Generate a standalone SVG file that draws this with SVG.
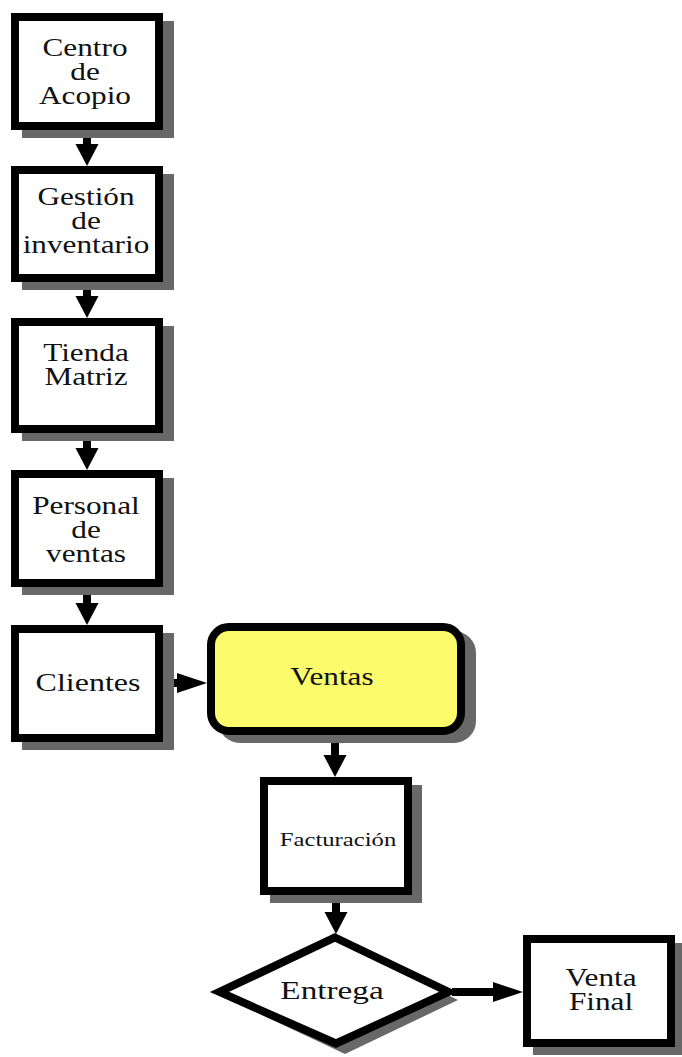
<svg xmlns="http://www.w3.org/2000/svg" width="682" height="1057" viewBox="0 0 682 1057">
  <style>
    .shadow { fill: #686868; stroke: none; }
    .box { fill: #ffffff; stroke: #000000; stroke-width: 8; }
    .hot { fill: #fbfb6b; stroke: #000000; stroke-width: 8; }
    .lbl { font-family: "Liberation Serif", "Times New Roman", serif; font-size: 25px; fill: #111111; text-anchor: middle; }
    .small { font-size: 19px; }
    .stem { stroke: #000000; stroke-width: 8; fill: none; stroke-linecap: butt; }
    .stem-v { marker-end: url(#head-v); }
    .stem-h { marker-end: url(#head-h); }
  </style>
  <defs>
    <marker id="head-v" markerUnits="userSpaceOnUse" markerWidth="22" markerHeight="23" refX="0" refY="11.5" orient="auto" overflow="visible">
      <path d="M0,0 L22,11.5 L0,23 Z" fill="#000000"/>
    </marker>
    <marker id="head-h" markerUnits="userSpaceOnUse" markerWidth="30" markerHeight="20" refX="0" refY="10" orient="auto" overflow="visible">
      <path d="M0,0 L30,10 L0,20 Z" fill="#000000"/>
    </marker>
  </defs>
  <rect width="682" height="1057" fill="#ffffff"/>

  <!-- connectors -->
  <g id="connectors">
    <path class="stem stem-v" d="M87,130 V144"/>
    <path class="stem stem-v" d="M87,282 V296"/>
    <path class="stem stem-v" d="M87,433 V448"/>
    <path class="stem stem-v" d="M87,587 V603"/>
    <path class="stem stem-h" d="M163,683 H177"/>
    <path class="stem stem-v" d="M335,735 V755"/>
    <path class="stem stem-v" d="M336,895 V912"/>
    <path class="stem stem-h" d="M452,992 H493"/>
  </g>

  <g id="centro-acopio">
    <rect class="shadow" x="22" y="21" width="152" height="117"/>
    <rect class="box" x="15" y="17" width="144" height="109"/>
    <text class="lbl" transform="translate(85,0) scale(1.25,1)"><tspan x="0" y="56">Centro</tspan><tspan x="0" y="80">de</tspan><tspan x="0" y="104">Acopio</tspan></text>
  </g>

  <g id="gestion-inventario">
    <rect class="shadow" x="22" y="174" width="152" height="116"/>
    <rect class="box" x="15" y="170" width="144" height="108"/>
    <text class="lbl" transform="translate(86,0) scale(1.25,1)"><tspan x="0" y="205">Gestión</tspan><tspan x="0" y="229">de</tspan><tspan x="0" y="253">inventario</tspan></text>
  </g>

  <g id="tienda-matriz">
    <rect class="shadow" x="22" y="326" width="152" height="115"/>
    <rect class="box" x="15" y="322" width="144" height="107"/>
    <text class="lbl" transform="translate(86,0) scale(1.25,1)"><tspan x="0" y="361">Tienda</tspan><tspan x="0" y="385">Matriz</tspan></text>
  </g>

  <g id="personal-ventas">
    <rect class="shadow" x="22" y="478" width="152" height="117"/>
    <rect class="box" x="15" y="474" width="144" height="109"/>
    <text class="lbl" transform="translate(86,0) scale(1.25,1)"><tspan x="0" y="514">Personal</tspan><tspan x="0" y="538">de</tspan><tspan x="0" y="562">ventas</tspan></text>
  </g>

  <g id="clientes">
    <rect class="shadow" x="22" y="633" width="152" height="117"/>
    <rect class="box" x="15" y="629" width="144" height="109"/>
    <text class="lbl" transform="translate(88,0) scale(1.28,1)" x="0" y="691">Clientes</text>
  </g>

  <g id="ventas">
    <rect class="shadow" x="218" y="631" width="258" height="112" rx="22"/>
    <rect class="hot" x="211" y="627" width="250" height="104" rx="18"/>
    <text class="lbl" transform="translate(332,0) scale(1.25,1)" x="0" y="685">Ventas</text>
  </g>

  <g id="facturacion">
    <rect class="shadow" x="270" y="785" width="152" height="118"/>
    <rect class="box" x="264" y="781" width="144" height="110"/>
    <text class="lbl small" transform="translate(338,0) scale(1.3,1)" x="0" y="846">Facturación</text>
  </g>

  <g id="entrega">
    <polygon class="shadow" points="345,945 458,1000 345,1054 230,1000"/>
    <polygon class="box" points="335,937.5 448.5,992 336,1043.5 219.5,992" stroke-linejoin="miter"/>
    <text class="lbl" transform="translate(332,0) scale(1.33,1)" x="0" y="999">Entrega</text>
  </g>

  <g id="venta-final">
    <rect class="shadow" x="533" y="943" width="152" height="112"/>
    <rect class="box" x="527" y="939" width="144" height="104"/>
    <text class="lbl" transform="translate(601,0) scale(1.25,1)"><tspan x="0" y="986">Venta</tspan><tspan x="0" y="1010">Final</tspan></text>
  </g>
</svg>
